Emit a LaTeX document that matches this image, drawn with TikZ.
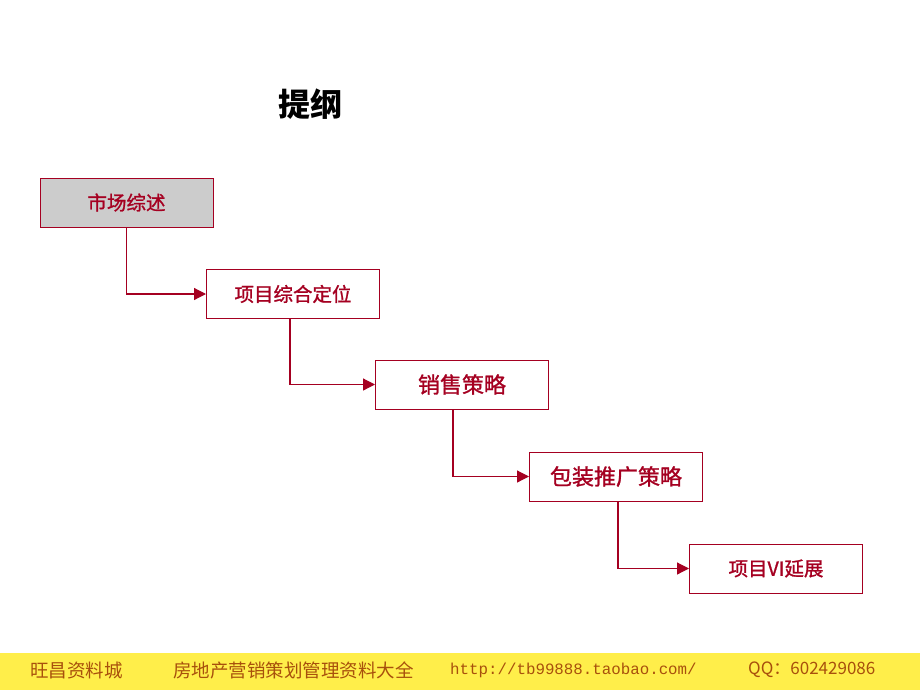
\documentclass[tikz,border=0pt]{standalone}
\usepackage{fontspec}
\setmainfont{Liberation Sans}
\newfontfamily\cjk{Noto Sans CJK SC}
\newfontfamily\cjkmed[FakeBold=1.2]{Noto Sans CJK SC}
\newfontfamily\monof{Liberation Mono}
\usetikzlibrary{arrows.meta}
\definecolor{dred}{HTML}{A50021}
\definecolor{boxgray}{HTML}{CCCCCC}
\definecolor{footyel}{HTML}{FFEE4A}
\definecolor{footbrown}{HTML}{A8500C}
\begin{document}
\begin{tikzpicture}[x=1pt,y=-1pt,
  stepbox/.style={draw=dred,line width=1pt,minimum width=173pt,minimum height=49pt,inner sep=0pt,text=dred,font=\cjkmed\fontsize{19.5}{19.5}\selectfont},
  conn/.style={draw=dred,line width=1.2pt,-{Triangle[length=12pt,width=12pt]}},
  foot/.style={text=footbrown,font=\cjk\fontsize{18.5}{18.5}\selectfont,anchor=west,inner sep=0pt}]
\useasboundingbox (0,0) rectangle (920,690);
\fill[white] (0,0) rectangle (920,690);
\fill[footyel] (0,653) rectangle (920,690);
\node[font=\cjk\bfseries\fontsize{32}{32}\selectfont] (title) at (310,104) {提纲};
\node[stepbox,fill=boxgray] (b1) at (126.5,202.5) {市场综述};
\node[stepbox] (b2) at (293,294) {项目综合定位};
\node[stepbox,font=\cjkmed\fontsize{22}{22}\selectfont] (b3) at (462,384.5) {销售策略};
\node[stepbox,font=\cjkmed\fontsize{22}{22}\selectfont] (b4) at (616,476.5) {包装推广策略};
\node[stepbox] (b5) at (776,568.5) {项目VI延展};
\draw[conn] (b1.south) |- (b2.west);
\draw[conn] ([xshift=-3pt]b2.south) |- (b3.west);
\draw[conn] ([xshift=-9pt]b3.south) |- (b4.west);
\draw[conn] ([xshift=2pt]b4.south) |- (b5.west);
\node[foot] (f1) at (30,670) {旺昌资料城};
\node[foot] (f2) at (173,670) {房地产营销策划管理资料大全};
\node[foot,font=\monof\fontsize{15.8}{15.8}\selectfont] (f3) at (450,670) {http://tb99888.taobao.com/};
\node[foot,font=\cjk\fontsize{17}{17}\selectfont] (f4) at (748,670) {QQ：602429086};
\end{tikzpicture}
\end{document}
